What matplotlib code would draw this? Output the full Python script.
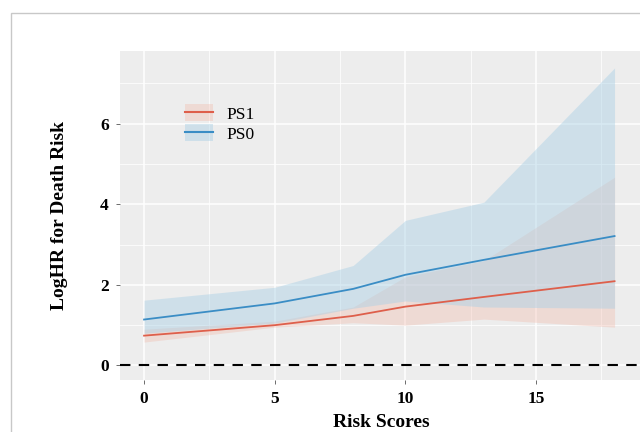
import matplotlib
matplotlib.use("Agg")
import matplotlib.pyplot as plt
from matplotlib.patches import Rectangle
from matplotlib.lines import Line2D
from matplotlib.ticker import MultipleLocator

# Data
risk_x = [0, 5, 8, 10, 13, 18]
ps1_fit = [0.74, 1.00, 1.23, 1.46, 1.70, 2.09]
ps1_lo = [0.58, 0.95, 1.06, 1.00, 1.15, 0.95]
ps1_hi = [0.90, 1.10, 1.45, 2.20, 2.60, 4.67]
ps0_fit = [1.14, 1.54, 1.90, 2.25, 2.62, 3.21]
ps0_lo = [0.80, 1.05, 1.42, 1.60, 1.45, 1.42]
ps0_hi = [1.62, 1.94, 2.48, 3.60, 4.05, 7.38]
x_ticks = [0, 5, 10, 15]
y_ticks = [0, 2, 4, 6]

W, H = 640, 432
fig = plt.figure(figsize=(6.4, 4.32), dpi=100)
fig.patch.set_facecolor("white")

# figure border (light gray)
fig.add_artist(Rectangle((11 / W, -0.1), 1.2, (H - 13) / H + 0.1, transform=fig.transFigure,
                         fill=False, edgecolor="#c8c8c8", linewidth=1.0))

left, right, top, bottom = 120, 642, 51, 380
ax = fig.add_axes([left / W, (H - bottom) / H, (right - left) / W, (bottom - top) / H])
ax.set_facecolor("#EDEDED")
for s in ax.spines.values():
    s.set_visible(False)

ax.set_xlim(-0.92, 19.05)
ax.set_ylim(-0.36, 7.80)
ax.xaxis.set_major_locator(MultipleLocator(5))
ax.xaxis.set_minor_locator(MultipleLocator(2.5))
ax.yaxis.set_major_locator(MultipleLocator(2))
ax.yaxis.set_minor_locator(MultipleLocator(1))
ax.grid(which="major", color="white", linewidth=1.1)
ax.grid(which="minor", color="white", linewidth=0.55)
ax.set_axisbelow(True)

red = "#DE5F4B"
blue = "#3A8DC5"
ax.fill_between(risk_x, ps1_lo, ps1_hi, color="#F2B8A8", alpha=0.35, linewidth=0)
ax.fill_between(risk_x, ps0_lo, ps0_hi, color="#A9D0E6", alpha=0.45, linewidth=0)
ax.plot(risk_x, ps1_fit, color=red, linewidth=1.3)
ax.plot(risk_x, ps0_fit, color=blue, linewidth=1.3)
ax.axhline(0, color="black", linewidth=1.5, linestyle=(0, (5, 4)))

ax.set_xticks(x_ticks)
ax.set_yticks(y_ticks)
ax.tick_params(which="major", length=3, color="#555555", width=0.6, pad=5)
ax.tick_params(which="minor", length=0)
for lab in ax.get_xticklabels() + ax.get_yticklabels():
    lab.set_fontfamily("Liberation Serif")
    lab.set_fontweight("bold")
    lab.set_fontsize(12.5)

ax.set_xlabel("Risk Scores", fontfamily="Liberation Serif", fontweight="bold", fontsize=14, labelpad=5)
ax.set_ylabel("LogHR for Death Risk", fontfamily="Liberation Serif", fontweight="bold", fontsize=14, labelpad=23)

# legend
h1 = (Rectangle((0, 0), 1, 1, facecolor="#F2B8A8", alpha=0.35, linewidth=0),
      Line2D([], [], color=red, linewidth=1.5))
h2 = (Rectangle((0, 0), 1, 1, facecolor="#A9D0E6", alpha=0.45, linewidth=0),
      Line2D([], [], color=blue, linewidth=1.5))
leg = ax.legend([h1, h2], ["PS1", "PS0"], loc="upper left", bbox_to_anchor=(0.095, 0.885),
                frameon=False, prop={"family": "Liberation Serif", "size": 12.5},
                handlelength=1.6, handleheight=1.1, handletextpad=0.8, labelspacing=0.1)

fig.savefig("out.png", dpi=100)
